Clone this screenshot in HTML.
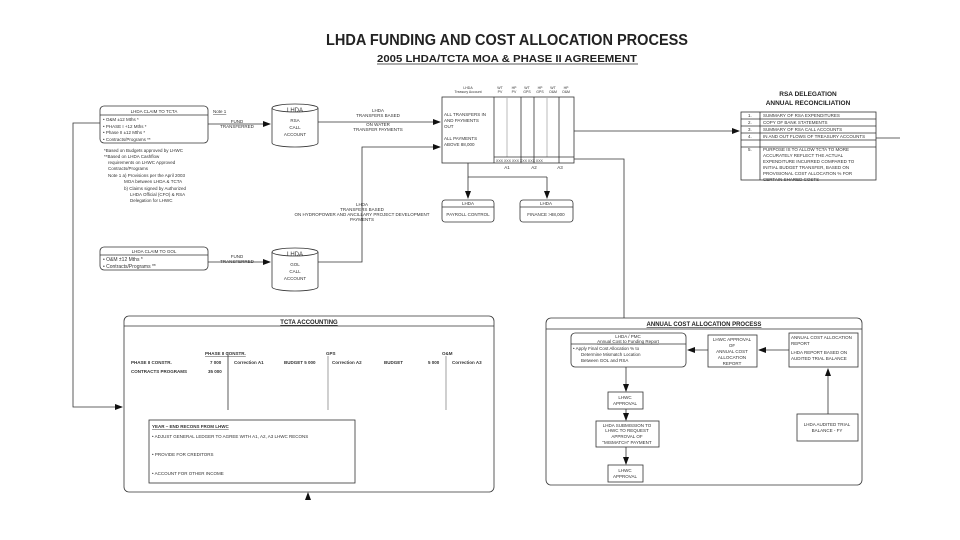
<!DOCTYPE html>
<html><head><meta charset="utf-8"><style>
html,body{margin:0;padding:0;background:#fff;}
svg{display:block;font-family:"Liberation Sans",sans-serif;}
.t{font-size:4.5px;fill:#333;}
.b{font-weight:bold;}
</style></head><body>
<svg width="960" height="540" viewBox="0 0 960 540" xmlns="http://www.w3.org/2000/svg">
<defs><marker id="a" markerWidth="8" markerHeight="6" refX="7" refY="3" orient="auto" markerUnits="userSpaceOnUse"><path d="M0,0 L8,3 L0,6z" fill="#111"/></marker></defs>
<text x="507" y="45" text-anchor="middle" font-size="15.5" font-weight="bold" fill="#222" textLength="362" lengthAdjust="spacingAndGlyphs">LHDA FUNDING AND COST ALLOCATION PROCESS</text>
<text x="507" y="62" text-anchor="middle" font-size="10" font-weight="bold" fill="#222" textLength="260" lengthAdjust="spacingAndGlyphs">2005 LHDA/TCTA MOA &amp; PHASE II AGREEMENT</text>
<line x1="377" y1="64" x2="638" y2="64" stroke="#222" stroke-width="0.8"/>
<g stroke="#333" stroke-width="0.8" fill="none">
<!-- claim TCTA -->
<rect x="100" y="106" width="108" height="37" rx="4"/><line x1="100" y1="115" x2="208" y2="115"/>
<rect x="100" y="247" width="108" height="23" rx="4"/><line x1="100" y1="255" x2="208" y2="255"/>
<!-- cylinders -->
<path d="M272,108 v35 a23,4 0 0 0 46,0 v-35"/><ellipse cx="295" cy="108" rx="23" ry="4"/>
<path d="M272,252 v35 a23,4 0 0 0 46,0 v-35"/><ellipse cx="295" cy="252" rx="23" ry="4"/>
<line x1="208" y1="124" x2="270" y2="124" marker-end="url(#a)"/>
<line x1="208" y1="262" x2="270" y2="262" marker-end="url(#a)"/>
<line x1="318" y1="122" x2="440" y2="122" marker-end="url(#a)"/>
<polyline points="318,262 362,262 362,147 440,147" marker-end="url(#a)"/>
<polyline points="100,123 73,123 73,407 122,407" marker-end="url(#a)"/>
<!-- treasury -->
<rect x="442" y="97" width="132" height="66"/>
<line x1="494" y1="97" x2="494" y2="163"/><line x1="507" y1="97" x2="507" y2="157" stroke="#aaa"/>
<line x1="521" y1="97" x2="521" y2="163"/><line x1="534" y1="97" x2="534" y2="163"/>
<line x1="547" y1="97" x2="547" y2="157" stroke="#aaa"/><line x1="559" y1="97" x2="559" y2="163"/>
<line x1="494" y1="157" x2="574" y2="157"/>
<line x1="574" y1="131" x2="739" y2="131" marker-end="url(#a)"/>
<polyline points="574,159 624,159 624,318"/>
<polyline points="468,163 468,177 547,177"/>
<line x1="468" y1="177" x2="468" y2="198" marker-end="url(#a)"/>
<line x1="547" y1="177" x2="547" y2="198" marker-end="url(#a)"/>
<rect x="442" y="200" width="52" height="22" rx="3"/><line x1="442" y1="207" x2="494" y2="207"/>
<rect x="520" y="200" width="53" height="22" rx="3"/><line x1="520" y1="207" x2="573" y2="207"/>
<!-- RSA table -->
<rect x="741" y="112" width="135" height="68"/>
<line x1="760" y1="112" x2="760" y2="180"/>
<line x1="741" y1="119" x2="876" y2="119"/><line x1="741" y1="126" x2="876" y2="126"/>
<line x1="741" y1="133" x2="876" y2="133"/><line x1="741" y1="140" x2="876" y2="140"/>
<line x1="741" y1="147" x2="876" y2="147"/>
<line x1="876" y1="138" x2="900" y2="138"/>
<!-- TCTA accounting -->
<rect x="124" y="316" width="370" height="176" rx="5"/><line x1="124" y1="326" x2="494" y2="326"/>
<line x1="228" y1="352" x2="228" y2="410"/><line x1="328" y1="356" x2="328" y2="410" stroke="#888"/><line x1="446" y1="356" x2="446" y2="410" stroke="#888"/>
<rect x="149" y="420" width="206" height="63"/>
<!-- ACAP -->
<rect x="546" y="318" width="316" height="167" rx="5"/><line x1="546" y1="329" x2="862" y2="329"/>
<rect x="571" y="333" width="115" height="34" rx="4"/><line x1="571" y1="344" x2="686" y2="344"/>
<rect x="708" y="335" width="49" height="32"/>
<rect x="789" y="333" width="69" height="34"/>
<line x1="789" y1="350" x2="759" y2="350" marker-end="url(#a)"/>
<line x1="708" y1="350" x2="688" y2="350" marker-end="url(#a)"/>
<rect x="797" y="414" width="61" height="27"/>
<line x1="828" y1="414" x2="828" y2="369" marker-end="url(#a)"/>
<rect x="608" y="392" width="35" height="17"/>
<rect x="596" y="421" width="63" height="26"/>
<rect x="608" y="465" width="35" height="17"/>
<line x1="626" y1="367" x2="626" y2="391" marker-end="url(#a)"/>
<line x1="626" y1="409" x2="626" y2="420" marker-end="url(#a)"/>
<line x1="626" y1="447" x2="626" y2="464" marker-end="url(#a)"/>
</g>
<path d="M305,500 L308,492 L311,500z" fill="#111"/>
<g class="t">
<text x="154" y="113" text-anchor="middle">LHDA CLAIM TO TCTA</text>
<text x="103" y="121">•   O&amp;M ±12 Mths *</text>
<text x="103" y="128">•   PHASE I +12 Mths *</text>
<text x="103" y="134">•   Phase II ±12 Mths *</text>
<text x="103" y="141">•   Contracts/Programs **</text>
<text x="213" y="113" style="text-decoration:underline">Note 1</text>
<text x="104" y="152">*Based on Budgets approved by LHWC</text>
<text x="104" y="158">**Based  on  LHDA  Cashflow</text>
<text x="108" y="164">requirements on LHWC Approved</text>
<text x="108" y="170">Contracts/Programs</text>
<text x="108" y="177">Note 1 a) Provisions per the April 2003</text>
<text x="124" y="183">MOA between LHDA &amp; TCTA</text>
<text x="124" y="190">b) Claims signed by Authorized</text>
<text x="130" y="196">LHDA Official (CFO) &amp; RSA</text>
<text x="130" y="202">Delegation for LHWC</text>
<text x="154" y="253" text-anchor="middle">LHDA CLAIM TO GOL</text>
<text x="103" y="261" font-size="5">•   O&amp;M ±12 Mths *</text>
<text x="103" y="268" font-size="5">•   Contracts/Programs **</text>
<text x="237" y="123" text-anchor="middle">FUND</text><text x="237" y="128" text-anchor="middle">TRANSFERRED</text>
<text x="237" y="258" text-anchor="middle">FUND</text><text x="237" y="263" text-anchor="middle">TRANSFERRED</text>
<text x="295" y="112" text-anchor="middle" font-size="6">LHDA</text>
<text x="295" y="122" text-anchor="middle">RSA</text><text x="295" y="129" text-anchor="middle">CALL</text><text x="295" y="136" text-anchor="middle">ACCOUNT</text>
<text x="295" y="256" text-anchor="middle" font-size="6">LHDA</text>
<text x="295" y="266" text-anchor="middle">GOL</text><text x="295" y="273" text-anchor="middle">CALL</text><text x="295" y="280" text-anchor="middle">ACCOUNT</text>
<text x="378" y="112" text-anchor="middle">LHDA</text><text x="378" y="117" text-anchor="middle">TRANSFERS BASED</text>
<text x="378" y="126" text-anchor="middle">ON WATER</text><text x="378" y="131" text-anchor="middle">TRANSFER PAYMENTS</text>
<text x="362" y="206" text-anchor="middle">LHDA</text><text x="362" y="211" text-anchor="middle">TRANSFERS BASED</text>
<text x="362" y="216" text-anchor="middle">ON HYDROPOWER AND ANCILLARY PROJECT DEVELOPMENT</text>
<text x="362" y="221" text-anchor="middle">PAYMENTS</text>
<text x="468" y="89" text-anchor="middle" font-size="3.5">LHDA</text><text x="468" y="93" text-anchor="middle" font-size="3.5">Treasury Account</text>
<text x="500" y="89" text-anchor="middle" font-size="3.5">WT</text><text x="514" y="89" text-anchor="middle" font-size="3.5">HP</text><text x="527" y="89" text-anchor="middle" font-size="3.5">WT</text><text x="540" y="89" text-anchor="middle" font-size="3.5">HP</text><text x="553" y="89" text-anchor="middle" font-size="3.5">WT</text><text x="566" y="89" text-anchor="middle" font-size="3.5">HP</text>
<text x="500" y="93" text-anchor="middle" font-size="3.5">PV</text><text x="514" y="93" text-anchor="middle" font-size="3.5">PV</text><text x="527" y="93" text-anchor="middle" font-size="3.5">GPS</text><text x="540" y="93" text-anchor="middle" font-size="3.5">GPS</text><text x="553" y="93" text-anchor="middle" font-size="3.5">O&amp;M</text><text x="566" y="93" text-anchor="middle" font-size="3.5">O&amp;M</text>
<text x="444" y="116">ALL TRANSFERS IN</text><text x="444" y="122">AND PAYMENTS</text><text x="444" y="128">OUT</text>
<text x="444" y="140">ALL PAYMENTS</text><text x="444" y="146">ABOVE 88,000</text>
<text x="496" y="162" font-size="3.5">XXX XXX XXX XXX XXX XXX</text>
<text x="507" y="169" text-anchor="middle">A1</text><text x="534" y="169" text-anchor="middle">A2</text><text x="560" y="169" text-anchor="middle">A3</text>
<text x="468" y="205" text-anchor="middle">LHDA</text><text x="468" y="216" text-anchor="middle">PAYROLL CONTROL</text>
<text x="546" y="205" text-anchor="middle">LHDA</text><text x="546" y="216" text-anchor="middle">FINANCE &gt;88,000</text>
<text x="808" y="96" text-anchor="middle" font-size="6.5" class="b" fill="#222">RSA DELEGATION</text>
<text x="808" y="105" text-anchor="middle" font-size="6.5" class="b" fill="#222">ANNUAL RECONCILIATION</text>
<text x="748" y="117">1.</text><text x="763" y="117">SUMMARY OF RSA EXPENDITURES</text>
<text x="748" y="124">2.</text><text x="763" y="124">COPY OF BANK STATEMENTS</text>
<text x="748" y="131">3.</text><text x="763" y="131">SUMMARY OF RSA CALL ACCOUNTS</text>
<text x="748" y="138">4.</text><text x="763" y="138">IN AND OUT FLOWS OF TREASURY ACCOUNTS</text>
<text x="748" y="151">5.</text><text x="763" y="151">PURPOSE IS TO ALLOW TCTA TO MORE</text>
<text x="763" y="157">ACCURATELY REFLECT THE ACTUAL</text>
<text x="763" y="163">EXPENDITURE INCURRED COMPARED TO</text>
<text x="763" y="169">INITIAL BUDGET TRANSFER, BASED ON</text>
<text x="763" y="175">PROVISIONAL COST ALLOCATION % FOR</text>
<text x="763" y="181">CERTAIN SHARED COSTS</text>
<text x="309" y="324" text-anchor="middle" font-size="6" class="b" fill="#222" text-decoration="underline">TCTA ACCOUNTING</text>
<text x="205" y="355" class="b" text-decoration="underline">PHASE II CONSTR.</text>
<text x="326" y="355" class="b">GPS</text><text x="442" y="355" class="b">O&amp;M</text>
<text x="131" y="364" class="b">PHASE II CONSTR.</text><text x="210" y="364" class="b">7 000</text>
<text x="234" y="364" class="b">Correction A1</text><text x="284" y="364" class="b">BUDGET 5 000</text>
<text x="332" y="364" class="b">Correction A2</text><text x="384" y="364" class="b">BUDGET</text>
<text x="428" y="364" class="b">5 000</text><text x="452" y="364" class="b">Correction A3</text>
<text x="131" y="373" class="b">CONTRACTS PROGRAMS</text><text x="208" y="373" class="b">35 000</text>
<text x="152" y="428" class="b" text-decoration="underline">YEAR – END RECONS FROM LHWC</text>
<text x="152" y="438">•      ADJUST GENERAL LEDGER TO AGREE WITH A1, A2, A3 LHWC RECONS</text>
<text x="152" y="456">•      PROVIDE FOR CREDITORS</text>
<text x="152" y="475">•      ACCOUNT FOR OTHER INCOME</text>
<text x="704" y="326" text-anchor="middle" font-size="6" class="b" fill="#222" text-decoration="underline">ANNUAL COST ALLOCATION PROCESS</text>
<text x="628" y="338" text-anchor="middle">LHDA / PMC</text>
<text x="628" y="343" text-anchor="middle" text-decoration="underline">Annual Cost to Funding Report</text>
<text x="573" y="350">•   Apply Final Cost Allocation % to</text>
<text x="581" y="356">Determine Mismatch Location</text>
<text x="581" y="362">Between GOL and RSA</text>
<text x="732" y="341" text-anchor="middle">LHWC APPROVAL</text><text x="732" y="347" text-anchor="middle">OF</text>
<text x="732" y="353" text-anchor="middle">ANNUAL COST</text><text x="732" y="359" text-anchor="middle">ALLOCATION</text><text x="732" y="365" text-anchor="middle">REPORT</text>
<text x="791" y="339">ANNUAL COST ALLOCATION</text><text x="791" y="345">REPORT</text>
<text x="791" y="354">LHDA REPORT BASED ON</text><text x="791" y="360">AUDITED TRIAL BALANCE</text>
<text x="827" y="426" text-anchor="middle">LHDA AUDITED TRIAL</text><text x="827" y="432" text-anchor="middle">BALANCE - FY</text>
<text x="625" y="399" text-anchor="middle">LHWC</text><text x="625" y="405" text-anchor="middle">APPROVAL</text>
<text x="627" y="427" text-anchor="middle">LHDA SUBMISSION TO</text><text x="627" y="432" text-anchor="middle">LHWC TO REQUEST</text>
<text x="627" y="438" text-anchor="middle">APPROVAL OF</text><text x="627" y="444" text-anchor="middle">"MISMATCH" PAYMENT</text>
<text x="625" y="472" text-anchor="middle">LHWC</text><text x="625" y="478" text-anchor="middle">APPROVAL</text>
</g>
</svg>
</body></html>
